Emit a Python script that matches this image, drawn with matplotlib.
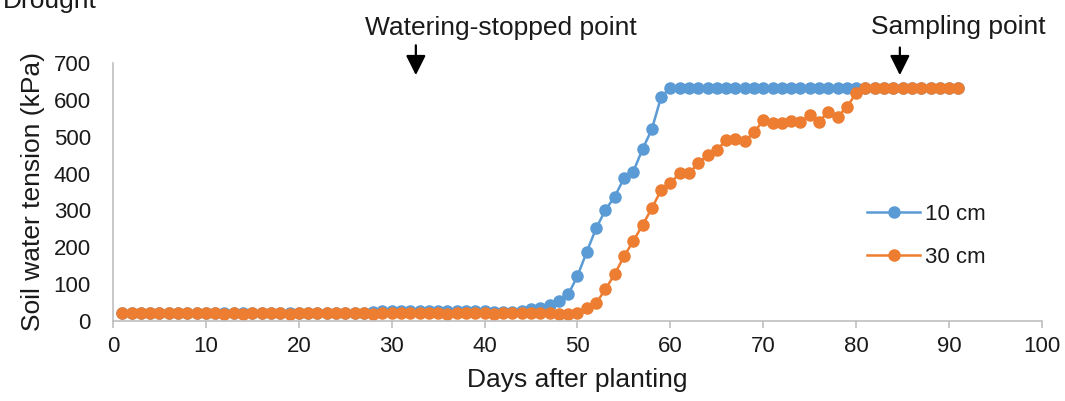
import matplotlib
matplotlib.use("Agg")
import matplotlib.pyplot as plt
import numpy as np

plt.rcParams['font.family'] = ['Liberation Sans', 'DejaVu Sans']

# Days after planting, one reading per day
days = list(range(1, 92))

# 10 cm depth (kPa)
tension_10cm = ([22] * 27 + [24, 28, 28, 28, 28, 28, 28, 28, 28, 28, 28, 28, 26,
                              24, 24, 24, 28, 32, 35, 43, 55, 72,
                              122, 188, 251, 301, 337, 387, 405, 466, 520, 608]
                + [633] * 32)

# 30 cm depth (kPa)
tension_30cm = ([22] * 10 + [22, 18, 22, 18, 22, 22, 22, 22, 18, 22,
                             22, 22, 22, 22, 22, 22, 22, 18, 22, 22,
                             22, 22, 22, 22, 22, 18, 22, 22, 22, 22,
                             18, 22, 22, 22, 22, 22, 22, 20, 20,
                             21, 34, 48, 86, 127, 175, 217, 260, 306, 355,
                             374, 401, 401, 428, 450, 464, 491, 495, 488, 512,
                             544, 536, 536, 543, 541, 559, 541, 568, 554, 581,
                             618]
                + [633] * 11)

blue = '#5B9BD5'
orange = '#ED7D31'
axis_grey = '#BFBFBF'
text_col = '#1A1A1A'

fig = plt.figure(figsize=(10.65, 4.01), dpi=100)
ax = fig.add_axes([0.1061, 0.1995, 0.8723, 0.6434])

ax.plot(days, tension_10cm, color=blue, marker='o', markersize=8,
        linewidth=1.8, label='10 cm')
ax.plot(days, tension_30cm, color=orange, marker='o', markersize=8,
        linewidth=1.8, label='30 cm')

ax.set_xlim(0, 100)
ax.set_ylim(0, 700)
ax.set_xticks(np.arange(0, 101, 10))
ax.set_yticks(np.arange(0, 701, 100))

for side in ['top', 'right']:
    ax.spines[side].set_visible(False)
for side in ['left', 'bottom']:
    ax.spines[side].set_color(axis_grey)
    ax.spines[side].set_linewidth(1.2)

ax.tick_params(axis='x', colors=axis_grey, length=5, width=1.2, pad=6,
               labelsize=16, labelcolor=text_col)
ax.tick_params(axis='y', length=0, pad=16, labelsize=16, labelcolor=text_col)

ax.set_xlabel('Days after planting', fontsize=19, color=text_col, labelpad=8)
ax.set_ylabel('Soil water tension (kPa)', fontsize=19, color=text_col, labelpad=6)

# markers of the watering stop and the sampling day
arrow = dict(arrowstyle='-|>,head_length=0.6,head_width=0.3', color='black',
             lw=1.6, mutation_scale=20, shrinkA=0, shrinkB=0)
ax.annotate('', xy=(32.6, 667), xytext=(32.6, 748), arrowprops=arrow,
            annotation_clip=False)
ax.annotate('', xy=(84.7, 667), xytext=(84.7, 742), arrowprops=arrow,
            annotation_clip=False)
ax.text(41.7, 795, 'Watering-stopped point', fontsize=19, color=text_col,
        ha='center', va='center', clip_on=False)
ax.text(91.0, 797, 'Sampling point', fontsize=19, color=text_col,
        ha='center', va='center', clip_on=False)

ax.legend(loc='center left', bbox_to_anchor=(0.79, 0.33), frameon=False,
          fontsize=16, handlelength=2.4, labelspacing=1.0, handletextpad=0.2,
          labelcolor=text_col)

fig.text(0.003, 1 - 8 / 401, 'Drought', fontsize=19, color=text_col,
         ha='left', va='baseline')

fig.savefig('out.png', dpi=100)
